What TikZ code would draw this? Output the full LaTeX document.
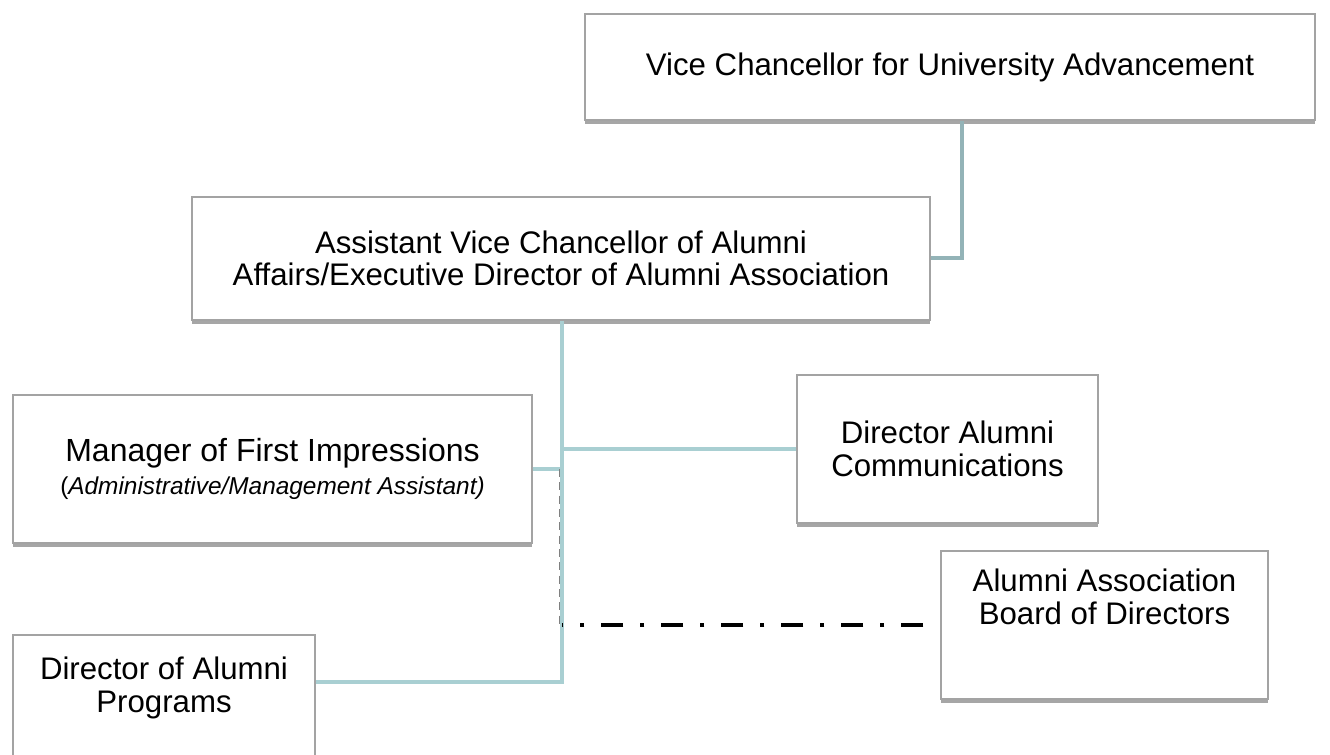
\documentclass[tikz,border=0pt]{standalone}
\usepackage{fontspec}
\setmainfont{Liberation Sans}
\usetikzlibrary{shadows}
\definecolor{tealA}{HTML}{A9CFD2}
\definecolor{tealB}{HTML}{93B3B7}
\definecolor{boxline}{HTML}{A3A3A3}
\newcommand{\mainfs}{\fontsize{23.4}{24.5}\selectfont}
\newcommand{\subfs}{\fontsize{18.3}{24.5}\selectfont}
\begin{document}
\begin{tikzpicture}[x=0.75pt,y=-0.75pt,
  orgbox/.style={draw=boxline, line width=1.1pt, fill=white, inner sep=0pt,
    align=center, font=\mainfs,
    drop shadow={shadow xshift=0pt, shadow yshift=-3pt, opacity=0.35, fill=black}},
  sz/.style 2 args={minimum width=#1*0.75pt, minimum height=#2*0.75pt},
  txt/.style={inner sep=0pt, align=center, font=\mainfs},
  conn/.style={draw=tealA, line width=3pt},
  connB/.style={draw=tealB, line width=3pt},
  dashdotline/.style={draw=black, line width=3pt,
    dash pattern=on 16.5pt off 12.75pt on 3pt off 12.75pt, dash phase=32.25pt},
  graydash/.style={draw=gray, line width=0.8pt, dash pattern=on 6pt off 4pt}]
\useasboundingbox (0,0) rectangle (1330,755);
\fill[white] (0,0) rectangle (1330,755);

\node[orgbox, sz={730}{106}] (vc) at (950,67) {Vice Chancellor for University Advancement};
\node[orgbox, sz={738}{123}] (avc) at (561,258.5) {Assistant Vice Chancellor of Alumni\\Affairs/Executive Director of Alumni Association};
\node[orgbox, sz={519}{148}] (mgr) at (272.5,469) {\fontsize{24}{24.5}\selectfont Manager of First Impressions\\{\subfs(\textit{Administrative/Management Assistant)}}};
\node[orgbox, sz={301}{148}] (comm) at (947.5,449) {Director Alumni\\Communications};
\node[orgbox, sz={327}{148}] (board) at (1104.5,625) {};
\node[txt] (boardt) at (1104.5,597) {Alumni Association\\Board of Directors};
\node[orgbox, sz={302}{140}] (prog) at (164,705) {};
\node[txt] (progt) at (164,688) {Director of Alumni\\Programs};

\coordinate (trunk) at (562,682);
\coordinate (vcx) at (962,0);
\coordinate (gd) at (559.5,0);

\draw[connB] (vc.south -| vcx) |- (avc.east);
\draw[conn] (avc.south -| trunk) -- (trunk) -- (trunk -| prog.east);
\draw[conn] (comm.west) -- (comm.west -| trunk);
\draw[conn] (mgr.east) -- (mgr.east -| trunk);
\draw[graydash] (mgr.east -| gd) -- (board.west -| gd);
\draw[dashdotline] (board.west) -- (board.west -| trunk);
\end{tikzpicture}
\end{document}
